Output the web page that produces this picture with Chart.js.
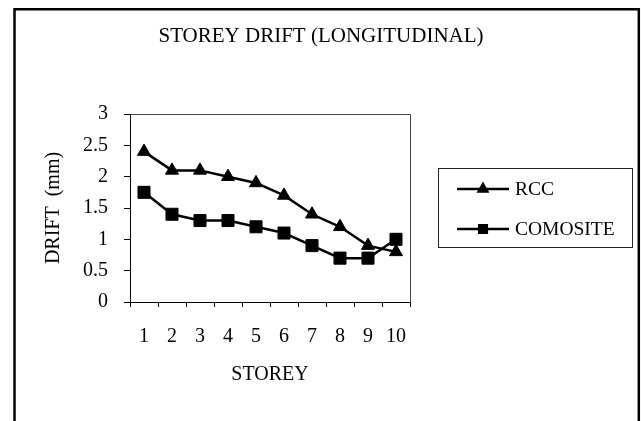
<!DOCTYPE html>
<html>
<head>
<meta charset="utf-8">
<title>Storey Drift (Longitudinal)</title>
<script src="https://cdn.jsdelivr.net/npm/chart.js@4/dist/chart.umd.min.js"></script>
<style>
  html, body { margin: 0; padding: 0; background: #ffffff; }
  #wrap { width: 641px; height: 421px; }
</style>
</head>
<body>
<div id="wrap"><canvas id="chart" width="641" height="421"></canvas></div>
<script>
// Storey numbers along the x axis
const storeys = ['1', '2', '3', '4', '5', '6', '7', '8', '9', '10'];
// Drift per storey (mm)
const rccDrift = [2.4, 2.1, 2.1, 2.0, 1.9, 1.7, 1.4, 1.2, 0.9, 0.8];
const compositeDrift = [1.75, 1.4, 1.3, 1.3, 1.2, 1.1, 0.9, 0.7, 0.7, 1.0];
// Series names as shown in the key
const seriesNames = ['RCC', 'COMOSITE'];
const chartTitle = 'STOREY DRIFT (LONGITUDINAL)';

const SERIF = '"Liberation Serif", "Times New Roman", Times, serif';

// Title, frame, plot-area outline and boxed key
const decorations = {
  id: 'decorations',
  afterDraw(chart) {
    const ctx = chart.ctx;
    const a = chart.chartArea;
    ctx.save();

    // title, centred on the whole page
    ctx.fillStyle = '#000000';
    ctx.font = '21px ' + SERIF;
    ctx.textAlign = 'center';
    ctx.textBaseline = 'middle';
    ctx.fillText(chartTitle, 321, 36);

    // plot area outline (top and right edges; axes draw the other two)
    ctx.strokeStyle = '#444444';
    ctx.lineWidth = 1;
    ctx.beginPath();
    ctx.moveTo(a.left, a.top + 0.5);
    ctx.lineTo(a.right + 0.5, a.top + 0.5);
    ctx.lineTo(a.right + 0.5, a.bottom);
    ctx.stroke();

    // outer frame, open at the bottom
    ctx.strokeStyle = '#000000';
    ctx.lineWidth = 2.5;
    ctx.beginPath();
    ctx.moveTo(14.5, 421);
    ctx.lineTo(14.5, 9.3);
    ctx.lineTo(638.8, 9.3);
    ctx.lineTo(638.8, 421);
    ctx.stroke();

    // key
    ctx.lineWidth = 1;
    ctx.strokeStyle = '#222222';
    ctx.strokeRect(438.5, 168.5, 194, 79);
    const rows = [189, 229];
    chart.data.datasets.forEach((ds, i) => {
      const y = rows[i];
      ctx.strokeStyle = ds.borderColor;
      ctx.lineWidth = 2.5;
      ctx.beginPath();
      ctx.moveTo(457, y);
      ctx.lineTo(509, y);
      ctx.stroke();
      ctx.fillStyle = ds.pointBackgroundColor;
      ctx.strokeStyle = ds.pointBorderColor;
      Chart.helpers.drawPoint(ctx, {
        pointStyle: ds.pointStyle,
        radius: ds.pointStyle === 'triangle' ? 5 : 5.4,
        borderWidth: 1,
        rotation: 0
      }, 483, y);
      ctx.fillStyle = '#000000';
      ctx.font = '19.5px ' + SERIF;
      ctx.textAlign = 'left';
      ctx.textBaseline = 'middle';
      ctx.fillText(ds.label, 515, y + 1);
    });
    ctx.restore();
  }
};

new Chart(document.getElementById('chart'), {
  type: 'line',
  data: {
    labels: storeys,
    datasets: [
      {
        label: seriesNames[0],
        data: rccDrift,
        borderColor: '#000000',
        borderWidth: 2.5,
        pointStyle: 'triangle',
        pointRadius: 7.5,
        pointHoverRadius: 7.5,
        pointBackgroundColor: '#000000',
        pointBorderColor: '#000000',
        pointBorderWidth: 1,
        tension: 0
      },
      {
        label: seriesNames[1],
        data: compositeDrift,
        borderColor: '#000000',
        borderWidth: 2.5,
        pointStyle: 'rect',
        pointRadius: 8.5,
        pointHoverRadius: 8.5,
        pointBackgroundColor: '#000000',
        pointBorderColor: '#000000',
        pointBorderWidth: 1,
        tension: 0
      }
    ]
  },
  options: {
    responsive: false,
    animation: false,
    devicePixelRatio: 1,
    layout: { padding: { top: 114, right: 231, bottom: 0, left: 0 } },
    plugins: {
      legend: { display: false },
      tooltip: { enabled: false },
      title: { display: false }
    },
    scales: {
      x: {
        type: 'category',
        offset: true,
        grid: {
          offset: true,
          drawOnChartArea: false,
          drawTicks: true,
          tickLength: 5,
          color: '#000000'
        },
        border: { display: true, color: '#000000', width: 1 },
        ticks: {
          color: '#000000',
          font: { family: SERIF, size: 20 },
          padding: 18,
          maxRotation: 0,
          autoSkip: false
        },
        title: {
          display: true,
          text: 'STOREY',
          color: '#000000',
          font: { family: SERIF, size: 20 },
          padding: { top: 0, bottom: 34 }
        },
        afterFit(scale) { scale.height = 119; }
      },
      y: {
        min: 0,
        max: 3,
        grid: {
          drawOnChartArea: false,
          drawTicks: true,
          tickLength: 6,
          color: '#000000'
        },
        border: { display: true, color: '#000000', width: 1 },
        ticks: {
          stepSize: 0.5,
          color: '#000000',
          font: { family: SERIF, size: 20 },
          padding: 16,
          callback: (value) => String(value)
        },
        title: {
          display: true,
          text: 'DRIFT  (mm)',
          color: '#000000',
          font: { family: SERIF, size: 20 },
          padding: { top: 42, bottom: 0 }
        },
        afterFit(scale) { scale.width = 130; }
      }
    }
  },
  plugins: [decorations]
});
</script>
</body>
</html>
